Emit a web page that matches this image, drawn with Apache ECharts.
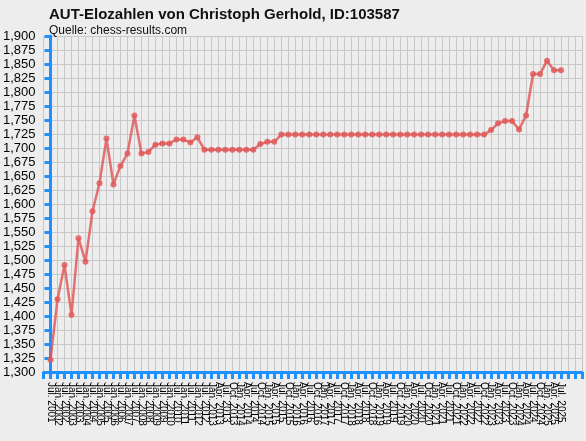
<!DOCTYPE html>
<html><head><meta charset="utf-8">
<script src="https://cdn.jsdelivr.net/npm/echarts@6/dist/echarts.min.js"></script>
<style>html,body{margin:0;padding:0;background:#ededed}#c{width:586px;height:441px}</style>
</head><body><div id="c"></div>
<script>
const months = ["Jan.","Apr.","Jul.","Oct."];
const categories = (function(){
  const out = [];
  out.push("Jul. 2001");
  for (let y = 2002; y <= 2012; y++) { out.push("Jan. " + y); out.push("Jul. " + y); }
  out.push("Jan. 2013");
  for (let y = 2013; y <= 2025; y++) {
    for (let m = 0; m < 4; m++) {
      if (y === 2013 && m === 0) continue;
      if (y === 2025 && m > 2) continue;
      out.push(months[m] + " " + y);
    }
  }
  return out;
})();
const elo = [1322,1430,1491,1402,1539,1497,1587,1637,1717,1635,1668,1690,1758,1690,1693,1706,1708,1708,1715,1715,1710,1719,
1697,1697,1697,1697,1697,1697,1697,1697,1707,1711,1711,
1724,1724,1724,1724,1724,1724,1724,1724,1724,1724,1724,1724,1724,1724,1724,1724,1724,1724,1724,1724,1724,1724,1724,1724,1724,1724,1724,1724,1724,1724,
1732,1744,1748,1748,1733,1758,1832,1832,1856,1839,1839];
const yTicks = {min:1300, max:1900, step:25};
const chart = echarts.init(document.getElementById('c'));
chart.setOption({
  backgroundColor:'#ededed',
  animation:false,
  title:[{text:'AUT-Elozahlen von Christoph Gerhold, ID:103587',left:44,top:2,textStyle:{fontFamily:'Liberation Sans',fontSize:15,fontWeight:'bold',color:'#111'}},
         {text:'Quelle: chess-results.com',left:44,top:20,textStyle:{fontFamily:'Liberation Sans',fontSize:12,fontWeight:'normal',color:'#111'}}],
  grid:{left:43,top:36,width:539,height:336},
  xAxis:{type:'value',min:-1,max:76,interval:1,
    axisLine:{lineStyle:{color:'#1e90ff',width:3}},
    axisTick:{show:true,length:7,lineStyle:{color:'#1e90ff',width:3}},
    splitLine:{show:true,lineStyle:{color:'#c8c8c8',width:1}},
    axisLabel:{rotate:-90,fontFamily:'Liberation Sans',fontSize:10,color:'#000',margin:10,
      formatter:function(v){return (v>=0 && v<categories.length)?categories[v]:'';}}},
  yAxis:{type:'value',min:yTicks.min,max:yTicks.max,interval:yTicks.step,
    axisLine:{show:true,lineStyle:{color:'#1e90ff',width:3}},
    axisTick:{show:true,length:6,lineStyle:{color:'#1e90ff',width:3}},
    splitLine:{show:true,lineStyle:{color:'#c8c8c8',width:1}},
    axisLabel:{fontFamily:'Liberation Sans',fontSize:13,color:'#000',margin:8}},
  series:[{type:'line',data:elo.map((v,i)=>[i,v]),symbol:'circle',symbolSize:6,
    lineStyle:{color:'rgba(224,90,90,0.85)',width:2.5},
    itemStyle:{color:'rgba(224,90,90,0.85)'}}]
});
</script></body></html>
